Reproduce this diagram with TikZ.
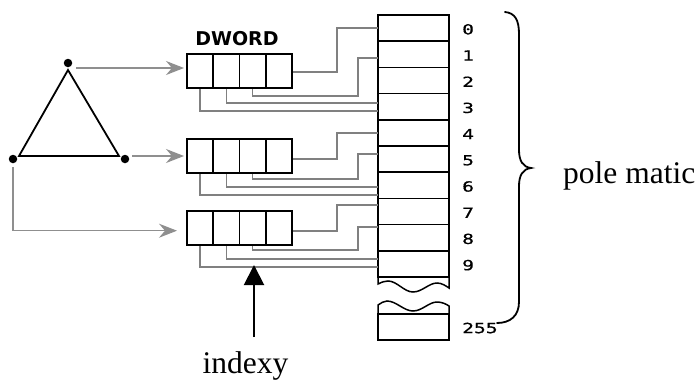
\documentclass[tikz,border=0pt]{standalone}
\usepackage{fontspec}
\setmainfont{Liberation Serif}
\newfontfamily\dwordfont{DejaVu Sans}
\newfontfamily\digitfont[FakeStretch=1.4,FakeBold=0.6]{DejaVu Sans Mono}
\usetikzlibrary{arrows.meta}
\definecolor{wiregray}{gray}{0.5}
\definecolor{arrowgray}{gray}{0.56}

\begin{document}
\begin{tikzpicture}[x=1pt,y=-1pt,
  cellbox/.style={minimum width=26.25pt, minimum height=34pt,
    inner sep=0pt, outer sep=0pt},
  rowbox/.style={draw=black, line width=1.5pt, minimum width=71pt,
    minimum height=26.2pt, inner sep=0pt, outer sep=0pt},
  wire/.style={draw=wiregray, line width=1.6pt},
  feed/.style={draw=arrowgray, line width=1.4pt,
    -{Stealth[length=18pt,width=14pt,inset=6pt]}},
  vdot/.style={circle, fill=black, inner sep=0pt, minimum size=8.5pt},
  digit/.style={font=\digitfont\fontsize{14}{16}\selectfont,
    inner sep=0pt, anchor=west},
  serif/.style={font=\fontsize{31.5}{36}\selectfont, inner sep=0pt},
]
\fill[white] (0,0) rectangle (699,381);
\useasboundingbox (0,0) rectangle (699,381);

% triangle with its three vertex markers
\draw[line width=1.8pt, line join=miter] (68,70) -- (19,156) -- (119,156) -- cycle;
\node[vdot] (vtop) at (68,63) {};
\node[vdot] (vleft) at (13,159) {};
\node[vdot] (vright) at (125,159) {};

% palette table: rows 0..9
\foreach \i in {0,...,9}{
  \node[rowbox] (r\i) at (413.5,{28.1+26.2*\i}) {};
  \node[digit] at (462,{29.3+26.2*\i}) {\i};
}
% torn-off part of the table
\draw[line width=1.5pt] (r9.south west) -- (378,284)
  .. controls (382,282) and (385,281) .. (388,281)
  .. controls (397,281) and (404,292) .. (413,292)
  .. controls (422,292) and (429,283) .. (437,283)
  .. controls (442,283) and (446,286) .. (449,288)
  -- (r9.south east);
\node[rowbox] (r255) at (413.5,327) {};
\draw[line width=1.5pt] (r255.north west) -- (378,305)
  .. controls (381,303) and (384,301) .. (387,301)
  .. controls (396,301) and (404,311) .. (413,311)
  .. controls (422,311) and (429,302) .. (437,302)
  .. controls (442,302) and (446,304) .. (449,306)
  -- (r255.north east);
\node[digit] at (462,328) {255};

% byte cells of the three DWORDs (outlines drawn after the wires)
\foreach \b/\y in {1/71,2/156,3/227.7}{
  \foreach \c in {1,...,4}{
    \node[cellbox] (c\b-\c) at ({187+26.25*\c-13.125},\y) {};
  }
}

% first DWORD
\draw[wire] ([yshift=-1pt]c1-4.east) -- ++(45,0) |- (r0.west);
\draw[wire] (c1-3.south) |- (358,96) |- ([yshift=-3.7pt]r1.west);
\draw[wire] (c1-2.south) |- ([yshift=3.7pt]r3.west);
\draw[wire] (c1-1.south) |- ([yshift=-4.3pt]r3.west);
% second DWORD
\draw[wire] ([yshift=-3pt]c2-4.east) -- ++(45,0) |- (r4.west);
\draw[wire] (c2-3.south) |- (358,179) |- ([yshift=5pt]r5.west);
\draw[wire] (c2-2.south) |- ([yshift=-1.9pt]r6.west);
\draw[wire] (c2-1.south) |- ([yshift=-9.8pt]r6.west);
% third DWORD
\draw[wire] ([yshift=-3pt]c3-4.east) -- ++(45,0) |- ([yshift=6.5pt]r7.west);
\draw[wire] (c3-3.south) |- (358,250) |- ([yshift=10.7pt]r8.west);
\draw[wire] (c3-2.south) |- ([yshift=4.9pt]r9.west);
\draw[wire] (c3-1.south) |- ([yshift=-3.1pt]r9.west);

% byte cell outlines
\foreach \b in {1,2,3}{
  \foreach \c in {1,...,4}{
    \draw[line width=1.6pt] (c\b-\c.north west) rectangle (c\b-\c.south east);
  }
}
\node[font=\dwordfont\bfseries\fontsize{19}{22}\selectfont, inner sep=0pt,
  anchor=base] (dw) at (237,45) {DWORD};

% vertices feeding the DWORDs
\draw[feed] ([shift={(8,5)}]vtop.center) -- ([shift={(-3,-3)}]c1-1.west);
\draw[feed] ([shift={(7,-3)}]vright.center) -- ([shift={(-3,0)}]c2-1.west);
\draw[feed] ([yshift=-8pt]vleft.center) |- ([shift={(-10,3)}]c3-1.west);

% brace over the table
\draw[line width=1.8pt, line cap=round]
  (505,12) .. controls (515,13) and (519,20) .. (519,34)
  -- (519,150) .. controls (519,161) and (523,167) .. (531,168)
  .. controls (523,169) and (519,175) .. (519,186)
  -- (519,302) .. controls (519,316) and (510,323) .. (497,323);
\node[serif, anchor=base west] (pm) at (563,183) {pole matic};

% index pointer
\coordinate (ptrtip) at (254,265);
\coordinate (ptrbase) at (254,337);
\draw[line width=2pt, -{Triangle[length=20pt,width=20pt]}] (ptrbase) -- (ptrtip);
\node[serif, anchor=base] (ix) at (245.5,373) {indexy};
\end{tikzpicture}
\end{document}
